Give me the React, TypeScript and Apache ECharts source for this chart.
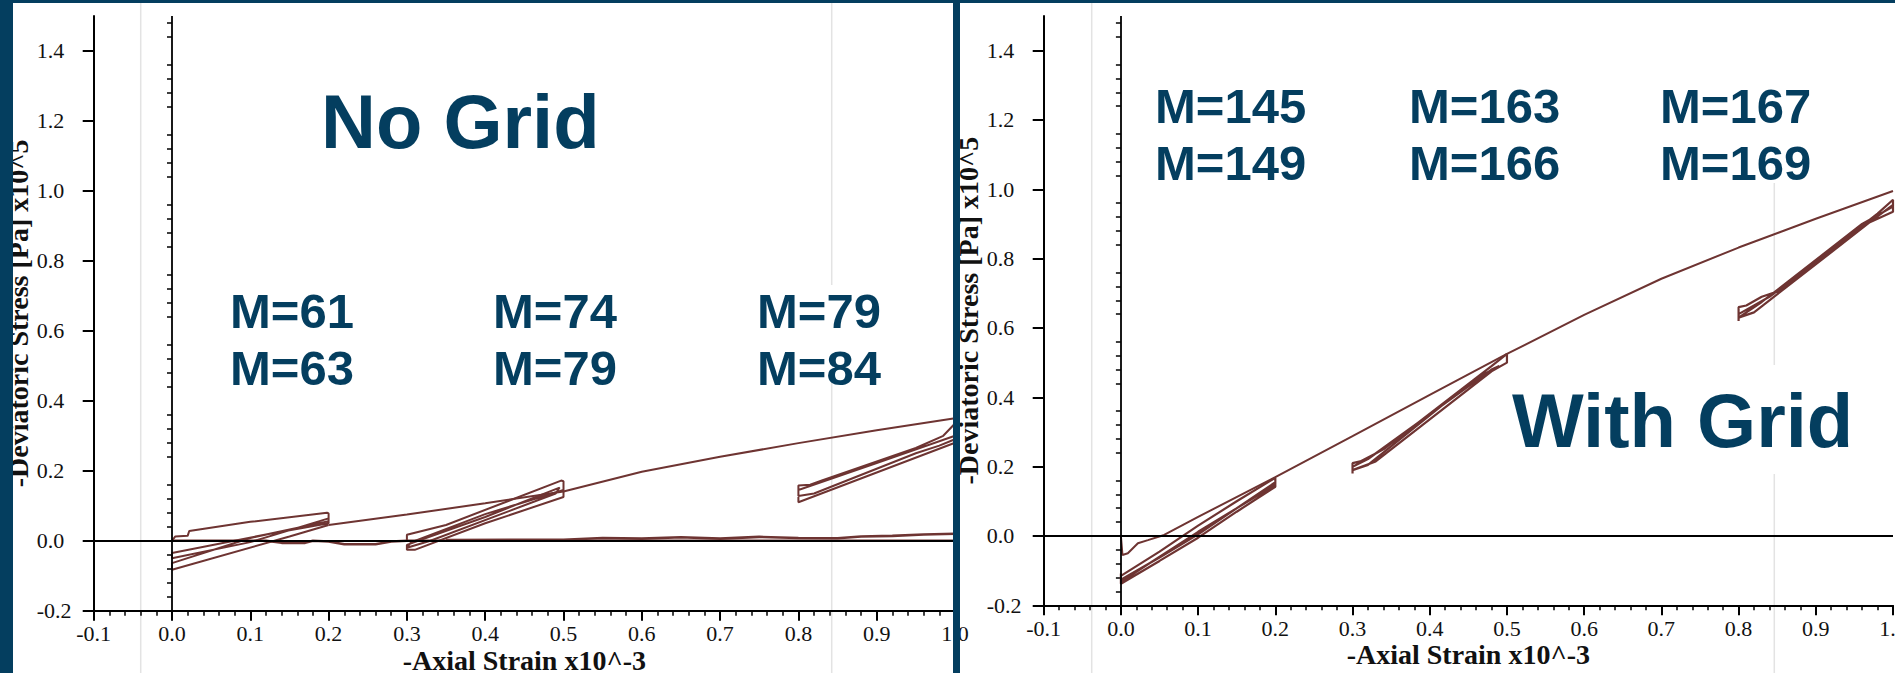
import React, { useEffect, useRef } from "react";
import * as echarts from "echarts";

// ---------- tick values ----------
const xTicks = [-0.1, 0.0, 0.1, 0.2, 0.3, 0.4, 0.5, 0.6, 0.7, 0.8, 0.9, 1.0];
const yTicks = [-0.2, 0.0, 0.2, 0.4, 0.6, 0.8, 1.0, 1.2, 1.4];
const yMinorTicks = [
  -0.16, -0.12, -0.08, -0.04, 0.04, 0.08, 0.12, 0.16, 0.24, 0.28, 0.32, 0.36,
  0.44, 0.48, 0.52, 0.56, 0.64, 0.68, 0.72, 0.76, 0.84, 0.88, 0.92, 0.96,
  1.04, 1.08, 1.12, 1.16, 1.24, 1.28, 1.32, 1.36, 1.44, 1.48,
];

// ---------- labels ----------
const leftTitle = "No Grid";
const rightTitle = "With Grid";
const leftLabelsRow1 = ["M=61", "M=74", "M=79"];
const leftLabelsRow2 = ["M=63", "M=79", "M=84"];
const rightLabelsRow1 = ["M=145", "M=163", "M=167"];
const rightLabelsRow2 = ["M=149", "M=166", "M=169"];
const xName = "-Axial Strain x10^-3";
const yName = "-Deviatoric Stress [Pa] x10^5";

// ---------- left chart (No Grid) data ----------
const leftEnvelope = [
  [0.2, 0.045], [0.3, 0.075], [0.4, 0.107], [0.5, 0.141], [0.6, 0.197],
  [0.7, 0.24], [0.8, 0.279], [0.9, 0.316], [1.0, 0.35],
];
const leftLoop1 = [
  [0.0, 0.0], [0.004, 0.012], [0.02, 0.014], [0.022, 0.028], [0.1, 0.054],
  [0.198, 0.08], [0.2, 0.078], [0.2, 0.05], [0.17, 0.038], [0.12, 0.018],
  [0.0, -0.035], [0.0, -0.05], [0.1, -0.004], [0.2, 0.064], [0.2, 0.056],
  [0.1, 0.008], [0.0, -0.064], [0.0, -0.083], [0.15, 0.012], [0.2, 0.045],
];
const leftLoop2 = [
  [0.3, 0.0], [0.3, 0.017], [0.35, 0.045], [0.497, 0.172], [0.5, 0.17],
  [0.5, 0.125], [0.4, 0.05], [0.31, -0.026], [0.3, -0.026], [0.3, -0.012],
  [0.4, 0.068], [0.495, 0.152], [0.49, 0.135], [0.33, 0.0], [0.3, -0.02],
  [0.305, -0.005], [0.4, 0.076], [0.5, 0.145],
];
const leftLoop3 = [
  [0.8, 0.13], [0.8, 0.158], [0.815, 0.16], [0.83, 0.172], [0.95, 0.265],
  [0.985, 0.3], [1.0, 0.335], [1.0, 0.3], [0.9, 0.222], [0.8, 0.145],
  [0.8, 0.128], [0.82, 0.135], [0.95, 0.25], [0.98, 0.272], [1.0, 0.29],
  [1.0, 0.28], [0.8, 0.11], [0.8, 0.125],
];
const leftBase = [
  [0.0, 0.0], [0.12, 0.0], [0.14, -0.006], [0.17, -0.006], [0.18, 0.0],
  [0.2, -0.002], [0.22, -0.01], [0.26, -0.01], [0.28, -0.002], [0.3, 0.0],
  [1.0, 0.0],
];
const leftBaseUpper = [
  [0.35, 0.002], [0.5, 0.003], [0.55, 0.008], [0.6, 0.006], [0.65, 0.01],
  [0.7, 0.006], [0.75, 0.011], [0.8, 0.008], [0.85, 0.007], [0.88, 0.012],
  [0.92, 0.014], [0.96, 0.018], [1.0, 0.02],
];

// ---------- right chart (With Grid) data ----------
const rightEnvelope = [
  [0.0, 0.0], [0.002, -0.055], [0.009, -0.05], [0.022, -0.021], [0.035, -0.012],
  [0.056, 0.003], [0.1, 0.055], [0.2, 0.17], [0.3, 0.288], [0.4, 0.407],
  [0.5, 0.525], [0.6, 0.638], [0.7, 0.742], [0.8, 0.832], [0.9, 0.915],
  [1.0, 0.995],
];
const rightLoop1 = [
  [0.0, -0.108], [0.0, -0.138], [0.05, -0.072], [0.1, -0.005], [0.15, 0.07],
  [0.2, 0.142], [0.2, 0.168], [0.15, 0.1], [0.1, 0.03], [0.05, -0.045],
  [0.0, -0.115], [0.0, -0.126], [0.05, -0.062], [0.1, 0.005], [0.18, 0.125],
  [0.2, 0.155], [0.2, 0.148], [0.1, 0.012], [0.0, -0.132],
];
const rightLoop2 = [
  [0.3, 0.18], [0.3, 0.21], [0.31, 0.215], [0.33, 0.238], [0.34, 0.25],
  [0.48, 0.49], [0.5, 0.525], [0.5, 0.5], [0.48, 0.475], [0.33, 0.215],
  [0.3, 0.19], [0.32, 0.205], [0.46, 0.455], [0.49, 0.49], [0.48, 0.48],
  [0.32, 0.222], [0.3, 0.2],
];
const rightLoop3 = [
  [0.8, 0.62], [0.8, 0.66], [0.81, 0.665], [0.83, 0.69], [0.85, 0.705],
  [0.98, 0.93], [1.0, 0.97], [1.0, 0.95], [0.96, 0.9], [0.83, 0.675],
  [0.8, 0.63], [0.82, 0.645], [0.97, 0.905], [1.0, 0.935], [1.0, 0.955],
  [0.84, 0.69], [0.8, 0.64],
];

const BLUE = "#043e5f";
const LINE = "#6e3432";
const SERIF = "Liberation Serif";
const SANS = "Liberation Sans";

function xAxisCfg(gridIndex: number, nameGap: number) {
  return {
    type: "value",
    gridIndex,
    min: -0.1,
    max: 1.0,
    interval: 0.1,
    axisLine: { show: true, onZero: false, lineStyle: { color: "#000", width: 2 } },
    axisTick: { show: true, length: 10, lineStyle: { color: "#000", width: 2 } },
    minorTick: { show: true, splitNumber: 5, length: 5, lineStyle: { color: "#000", width: 1.5 } },
    splitLine: { show: false },
    axisLabel: {
      formatter: (v: number) => v.toFixed(1),
      fontFamily: SERIF,
      fontSize: 22,
      color: "#111",
      margin: 12,
      customValues: xTicks,
    },
    name: xName,
    nameLocation: "middle",
    nameGap,
    nameMoveOverlap: false,
    nameTextStyle: { fontFamily: SERIF, fontWeight: "bold", fontSize: 28, color: "#111" },
  };
}

function yAxisCfg(gridIndex: number) {
  return {
    type: "value",
    gridIndex,
    position: "left",
    min: -0.2,
    max: 1.5,
    interval: 0.2,
    axisLine: { show: true, onZero: false, lineStyle: { color: "#000", width: 2 } },
    axisTick: { show: true, length: 11, customValues: yTicks, lineStyle: { color: "#000", width: 2 } },
    minorTick: { show: false },
    splitLine: { show: false },
    axisLabel: {
      customValues: yTicks,
      formatter: (v: number) => v.toFixed(1),
      fontFamily: SERIF,
      fontSize: 22,
      color: "#111",
      align: "left",
      margin: 57,
    },
    name: yName,
    nameLocation: "middle",
    nameRotate: 90,
    nameGap: 57,
    nameTextStyle: { fontFamily: SERIF, fontWeight: "bold", fontSize: 28, color: "#111" },
  };
}

function yMinorCfg(gridIndex: number) {
  return {
    type: "value",
    gridIndex,
    position: "left",
    offset: 0,
    min: -0.2,
    max: 1.5,
    axisLine: { show: false },
    axisTick: { show: true, length: 5, customValues: yMinorTicks, lineStyle: { color: "#000", width: 1.5 } },
    axisLabel: { show: false, customValues: yMinorTicks },
    splitLine: { show: false },
  };
}

function dataSeries(data: number[][], xAxisIndex: number, yAxisIndex: number, width = 2) {
  return {
    type: "line",
    xAxisIndex,
    yAxisIndex,
    data,
    showSymbol: false,
    symbol: "none",
    silent: true,
    z: 3,
    lineStyle: { color: LINE, width },
  };
}

function zeroSeries(xAxisIndex: number, yAxisIndex: number) {
  return {
    type: "line",
    xAxisIndex,
    yAxisIndex,
    data: [[0, 0]],
    showSymbol: false,
    symbol: "none",
    z: 1,
    lineStyle: { width: 0 },
    markLine: {
      silent: true,
      symbol: "none",
      label: { show: false },
      lineStyle: { color: "#000", width: 1.8, type: "solid" },
      data: [{ xAxis: 0 }, { yAxis: 0 }],
    },
  };
}

function mText(text: string, x: number, y: number, size: number) {
  return {
    type: "text",
    x,
    y,
    z: 50,
    silent: true,
    style: {
      text,
      fill: BLUE,
      fontFamily: SANS,
      fontWeight: "bold",
      fontSize: size,
      align: "left",
      verticalAlign: "middle",
    },
  };
}

function vLine(x: number, y1: number, y2: number) {
  return {
    type: "line",
    z: 0,
    silent: true,
    shape: { x1: x, y1, x2: x, y2 },
    style: { stroke: "#e3e3e3", lineWidth: 1.5 },
  };
}

export default function App() {
  const ref = useRef<HTMLDivElement>(null);
  useEffect(() => {
    if (!ref.current) return;
    const chart = echarts.init(ref.current, undefined, { renderer: "svg" });
    const leftCols = [230, 493, 757];
    const rightCols = [1155, 1409, 1660];
    const graphics: any[] = [
      vLine(140.7, 3, 673),
      vLine(831.7, 3, 285),
      vLine(831.7, 380, 673),
      vLine(1091.7, 3, 673),
      vLine(1774.3, 183, 365),
      vLine(1774.3, 474, 673),
      mText(leftTitle, 321, 121, 76),
      mText(rightTitle, 1512, 420, 76),
    ];
    leftLabelsRow1.forEach((t, i) => graphics.push(mText(t, leftCols[i], 311, 49)));
    leftLabelsRow2.forEach((t, i) => graphics.push(mText(t, leftCols[i], 368, 49)));
    rightLabelsRow1.forEach((t, i) => graphics.push(mText(t, rightCols[i], 106, 49)));
    rightLabelsRow2.forEach((t, i) => graphics.push(mText(t, rightCols[i], 163, 49)));
    // frame / divider
    graphics.push(
      { type: "rect", z: 100, silent: true, shape: { x: 0, y: 0, width: 13, height: 673 }, style: { fill: BLUE } },
      { type: "rect", z: 100, silent: true, shape: { x: 0, y: 0, width: 1895, height: 3 }, style: { fill: BLUE } },
      { type: "rect", z: 100, silent: true, shape: { x: 953, y: 0, width: 7, height: 673 }, style: { fill: BLUE } }
    );

    chart.setOption({
      animation: false,
      backgroundColor: "#fff",
      grid: [
        { left: 93.7, top: 16, width: 861.3, height: 594.7, outerBoundsMode: "none", containLabel: false },
        { left: 1043.7, top: 16, width: 849.3, height: 589.3, outerBoundsMode: "none", containLabel: false },
      ],
      xAxis: [xAxisCfg(0, 36), xAxisCfg(1, 35)],
      yAxis: [yAxisCfg(0), yMinorCfg(0), yAxisCfg(1), yMinorCfg(1)],
      series: [
        zeroSeries(0, 0),
        dataSeries(leftBase, 0, 0, 2.6),
        dataSeries(leftBaseUpper, 0, 0, 2.6),
        dataSeries(leftEnvelope, 0, 0),
        dataSeries(leftLoop1, 0, 0),
        dataSeries(leftLoop2, 0, 0),
        dataSeries(leftLoop3, 0, 0),
        zeroSeries(1, 2),
        dataSeries(rightEnvelope, 1, 2),
        dataSeries(rightLoop1, 1, 2, 2.2),
        dataSeries(rightLoop2, 1, 2, 2.2),
        dataSeries(rightLoop3, 1, 2, 2.2),
      ],
      graphic: graphics,
    });
    return () => chart.dispose();
  }, []);
  return (
    <div
      ref={ref}
      style={{ position: "fixed", left: 0, top: 0, width: 1895, height: 673, background: "#fff" }}
    />
  );
}
